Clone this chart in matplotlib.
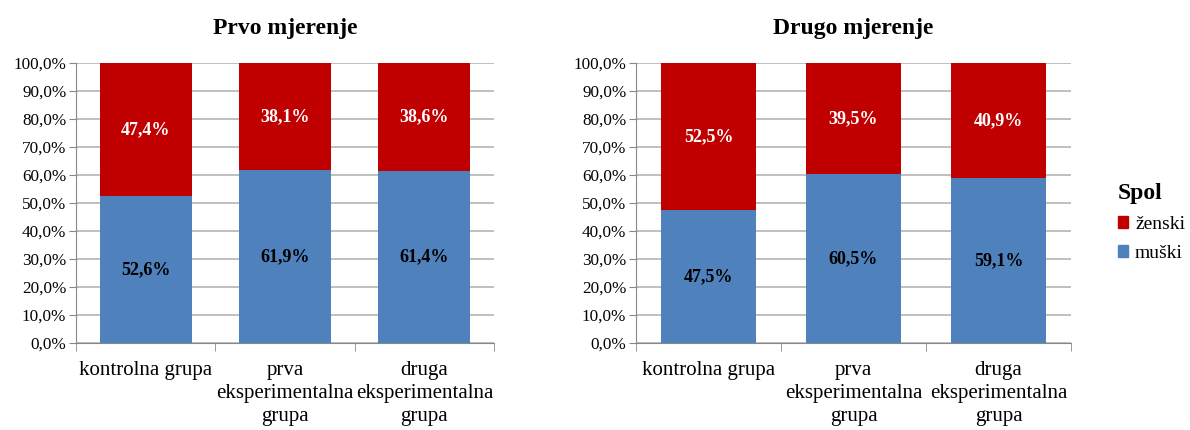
import numpy as np
from matplotlib import pyplot as plt
from matplotlib.patches import Patch
from matplotlib.ticker import FuncFormatter, FixedLocator

plt.rcParams['font.family'] = ['Liberation Serif', 'DejaVu Serif']

groups = ['kontrolna grupa', 'prva\neksperimentalna\ngrupa',
          'druga\neksperimentalna\ngrupa']
titles = ['Prvo mjerenje', 'Drugo mjerenje']
muski = [[52.6, 61.9, 61.4], [47.5, 60.5, 59.1]]
zenski = [[47.4, 38.1, 38.6], [52.5, 39.5, 40.9]]

blue = '#4F81BD'
red = '#C00000'
grid_c = '#B4B4B4'

fig = plt.figure(figsize=(11.9, 4.3), dpi=100)
boxes = [(76, 494), (636, 1071)]
axes = []
for (x0, x1) in boxes:
    ax = fig.add_axes([x0 / 1190, 1 - 343 / 430, (x1 - x0) / 1190, 280 / 430])
    axes.append(ax)

for ax, title, m, z in zip(axes, titles, muski, zenski):
    x = np.arange(len(groups))
    ax.bar(x, m, width=0.66, color=blue, zorder=3)
    ax.bar(x, z, width=0.66, bottom=m, color=red, zorder=3)
    for xi, mv, zv in zip(x, m, z):
        ax.text(xi, mv / 2, f'{mv:.1f}%'.replace('.', ','), ha='center',
                va='center', fontsize=13, fontweight='bold', color='black',
                zorder=4)
        ax.text(xi, mv + zv / 2, f'{zv:.1f}%'.replace('.', ','),
                ha='center', va='center', fontsize=13, fontweight='bold',
                color='white', zorder=4)
    ax.set_xlim(-0.5, len(groups) - 0.5)
    ax.set_ylim(0, 100)
    ax.yaxis.set_major_locator(FixedLocator(np.arange(0, 101, 10)))
    ax.yaxis.set_major_formatter(
        FuncFormatter(lambda v, p: f'{v:.1f}%'.replace('.', ',')))
    ax.set_xticks(x)
    ax.set_xticklabels(groups, fontsize=15, linespacing=1.3)
    ax.set_xticks(np.arange(-0.5, len(groups), 1), minor=True)
    ax.tick_params(axis='x', which='major', length=0, pad=13)
    ax.tick_params(axis='x', which='minor', length=6, color='#888888',
                   direction='out')
    ax.tick_params(axis='y', length=5, color='#888888', labelsize=12.3,
                   pad=2)
    ax.grid(axis='y', color=grid_c, linewidth=1.2, zorder=0)
    for s in ['top', 'right']:
        ax.spines[s].set_visible(False)
    for s in ['left', 'bottom']:
        ax.spines[s].set_color('#888888')
    ax.set_title(title, fontsize=17, fontweight='bold', pad=21)

handles = [Patch(color=red, label='ženski'), Patch(color=blue, label='muški')]
leg = fig.legend(handles=handles, title='Spol', loc='upper left',
                 bbox_to_anchor=(1100 / 1190, 1 - 166 / 430), frameon=False,
                 fontsize=14, handlelength=0.55, handleheight=0.55,
                 handletextpad=0.35, labelspacing=0.6)
leg.get_title().set_fontsize(17)
leg.get_title().set_fontweight('bold')
leg._legend_box.align = 'left'

fig.savefig('out.png', dpi=100)
